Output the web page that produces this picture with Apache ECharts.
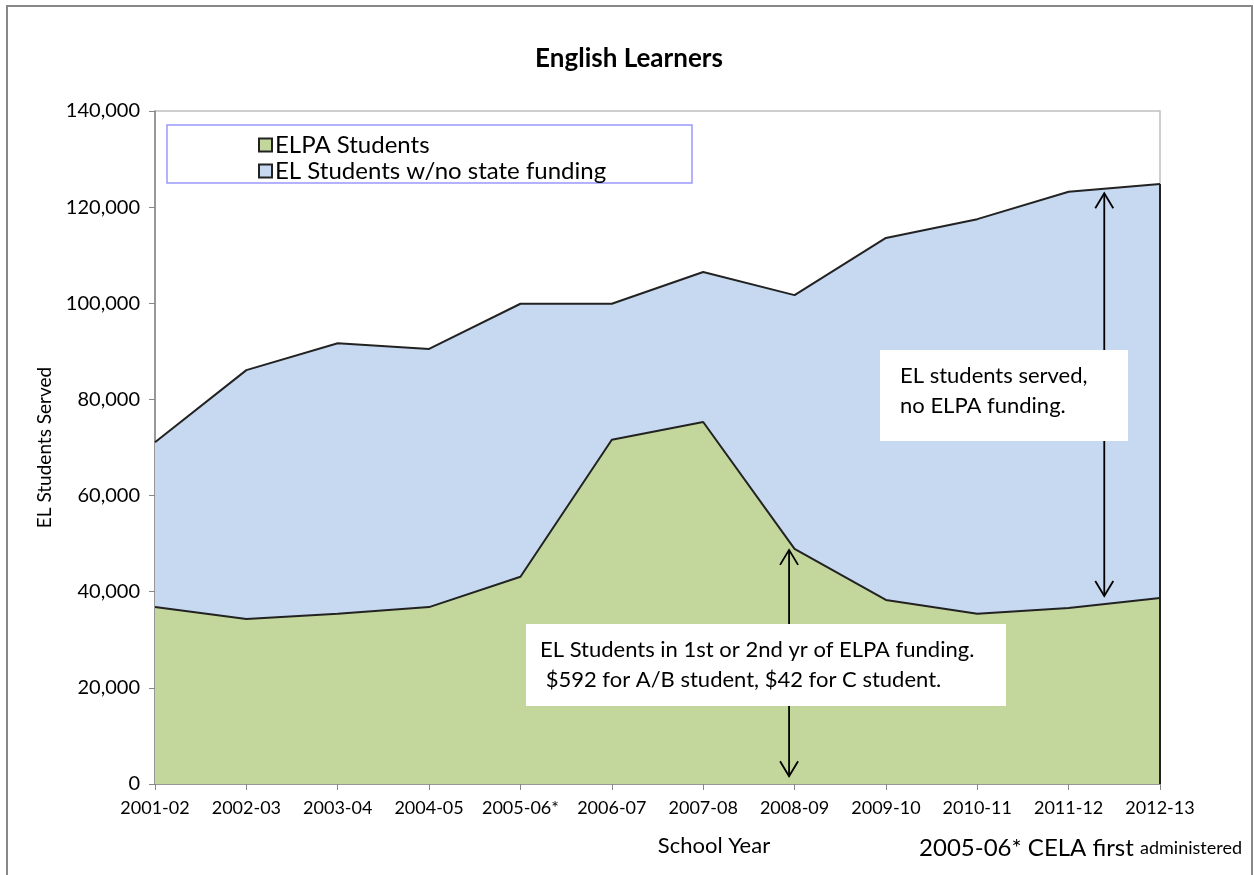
<!DOCTYPE html>
<html><head><meta charset="utf-8">
<script src="https://cdn.jsdelivr.net/npm/echarts@6/dist/echarts.min.js"></script>
<style>html,body{margin:0;padding:0;background:#fff}#c{width:1254px;height:875px}</style>
</head><body><div id="c"></div>
<script>
var years = ['2001-02','2002-03','2003-04','2004-05','2005-06*','2006-07','2007-08','2008-09','2009-10','2010-11','2011-12','2012-13'];
var elpaStudents = [36800,34300,35400,36800,43100,71600,75300,48900,38300,35400,36600,38700];
var totalStudents = [71100,86100,91700,90500,99900,99900,106500,101700,113600,117500,123200,124800];
var noFunding = totalStudents.map(function(t,i){return t - elpaStudents[i];});
var yTicks = [0,20000,40000,60000,80000,100000,120000,140000];

var FONT = 'Lato, "Open Sans", sans-serif';
var chart = echarts.init(document.getElementById('c'));
chart.setOption({
  animation:false,
  title:{text:'English Learners',left:624,textAlign:'center',top:41,textStyle:{fontFamily:FONT,fontSize:26,fontWeight:'bold',color:'#000'}},
  grid:{left:155,right:94,top:111,bottom:91,show:true,borderColor:'#c0c0c0',borderWidth:1.5,backgroundColor:'transparent'},
  legend:{orient:'vertical',left:253,top:128,itemGap:2,itemWidth:13,itemHeight:13,icon:'rect',
    textStyle:{fontFamily:FONT,fontSize:24,color:'#000',padding:[0,0,0,-2]},
    data:['ELPA Students','EL Students w/no state funding']},
  xAxis:{type:'category',data:years,boundaryGap:false,
    axisLine:{lineStyle:{color:'#868686',width:1.5}},
    axisTick:{show:true,length:6,interval:0,lineStyle:{color:'#868686'}},
    axisLabel:{fontFamily:FONT,fontSize:18,color:'#000',margin:15,interval:0},
    splitLine:{show:false}},
  yAxis:{type:'value',min:0,max:140000,interval:20000,
    name:'EL Students Served',nameLocation:'middle',nameGap:101,
    nameTextStyle:{fontFamily:FONT,fontSize:19,color:'#000'},
    axisLine:{show:true,lineStyle:{color:'#868686',width:1.5}},
    axisTick:{show:true,length:6,lineStyle:{color:'#868686'}},
    axisLabel:{fontFamily:FONT,fontSize:20,color:'#000',margin:15,
      formatter:function(v){return v.toLocaleString('en-US');}},
    splitLine:{show:false}},
  series:[
    {name:'ELPA Students',type:'line',stack:'s',data:elpaStudents,symbol:'none',
      lineStyle:{color:'#222',width:2},itemStyle:{color:'#c3d69b',borderColor:'#222',borderWidth:1},
      areaStyle:{color:'#c3d69b',opacity:1}},
    {name:'EL Students w/no state funding',type:'line',stack:'s',data:noFunding,symbol:'none',
      lineStyle:{color:'#222',width:2},itemStyle:{color:'#c6d9f0',borderColor:'#222',borderWidth:1},
      areaStyle:{color:'#c6d9f0',opacity:1}}
  ]
});

function px(xi,v){
  var a = chart.convertToPixel({xAxisIndex:0},Math.floor(xi));
  var b = chart.convertToPixel({xAxisIndex:0},Math.min(Math.ceil(xi),years.length-1));
  var x = a + (b-a)*(xi-Math.floor(xi));
  var y = chart.convertToPixel({yAxisIndex:0},v);
  return [x,y];
}
function arrow(xi,v1,v2){
  var p1=px(xi,v1), p2=px(xi,v2);
  var s={stroke:'#000',lineWidth:1.8,fill:null};
  return [
    {type:'line',shape:{x1:p1[0],y1:p1[1],x2:p2[0],y2:p2[1]},style:s,z:20},
    {type:'polyline',shape:{points:[[p1[0]-9,p1[1]+15],[p1[0],p1[1]],[p1[0]+9,p1[1]+15]]},style:s,z:20},
    {type:'polyline',shape:{points:[[p2[0]-9,p2[1]-15],[p2[0],p2[1]],[p2[0]+9,p2[1]-15]]},style:s,z:20}
  ];
}
var last = years.length-1;
var pTop = px(last,totalStudents[last]), pBot = px(last,0);
var g = [
  {type:'rect',shape:{x:7,y:6,width:1245,height:880},style:{fill:null,stroke:'#888',lineWidth:2},z:1},
  {type:'line',shape:{x1:pTop[0],y1:pTop[1],x2:pBot[0],y2:pBot[1]},style:{stroke:'#222',lineWidth:2},z:15},
  {type:'rect',shape:{x:167,y:125,width:525,height:58},style:{fill:'#fff',stroke:'#9999ff',lineWidth:1.5},z:0}
];
g = g.concat(arrow(10.39,122900,39100));
g = g.concat(arrow(6.94,48700,1600));
g.push({type:'rect',shape:{x:880,y:350,width:248,height:91},style:{fill:'#fff'},z:25});
g.push({type:'text',x:900,y:361,style:{text:'EL students served,\nno ELPA funding.',fontFamily:FONT,fontSize:22,lineHeight:30,fill:'#000'},z:26});
g.push({type:'rect',shape:{x:526,y:624,width:480,height:82},style:{fill:'#fff'},z:25});
g.push({type:'text',x:540,y:635,style:{text:'EL Students in 1st or 2nd yr of ELPA funding.\n $592 for A/B student, $42 for C student.',fontFamily:FONT,fontSize:22,lineHeight:30,fill:'#000'},z:26});
g.push({type:'text',x:714,y:846,style:{text:'School Year',fontFamily:FONT,fontSize:22,fill:'#000',textAlign:'center',textVerticalAlign:'middle'},z:26});
g.push({type:'text',x:1242,y:848,style:{text:'{a|2005-06* CELA first }{b|administered}',textAlign:'right',textVerticalAlign:'middle',
  rich:{a:{fontFamily:FONT,fontSize:24,fill:'#000'},b:{fontFamily:FONT,fontSize:18,fill:'#000'}}},z:26});
chart.setOption({graphic:g});
</script></body></html>
